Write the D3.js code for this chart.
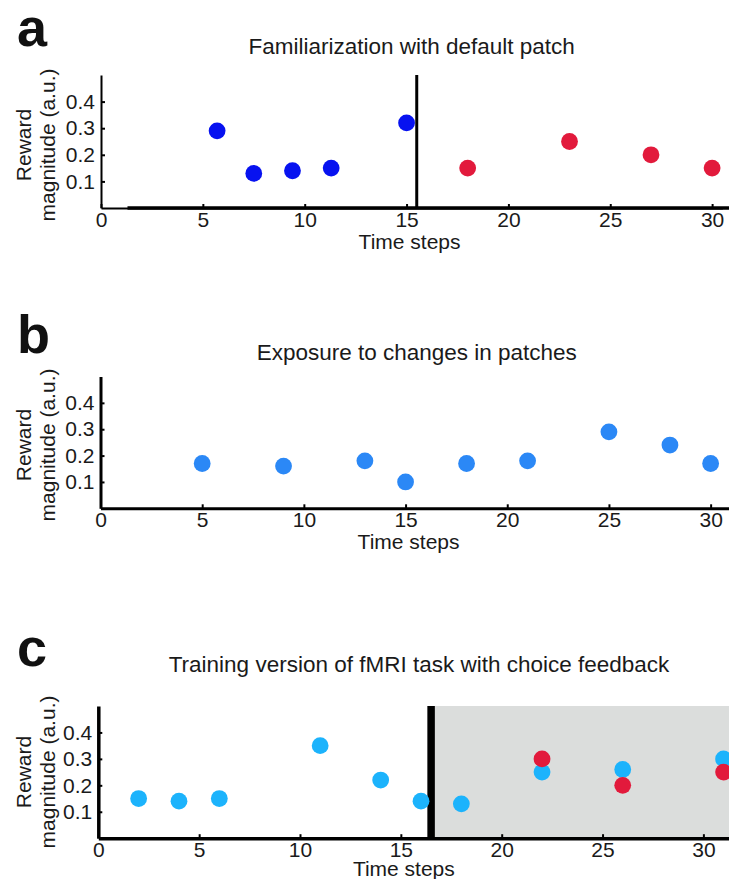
<!DOCTYPE html>
<html>
<head>
<meta charset="utf-8">
<script src="https://cdn.jsdelivr.net/npm/d3@7"></script>
<style>
    body { margin: 0; background: #fff; }
    text { font-family: "Liberation Sans", Arial, Helvetica, sans-serif; fill: #1a1a1a; }
    .panel-letter { font-weight: bold; font-size: 54px; fill: #111; }
    .title { font-size: 22.5px; }
    .tick-label { font-size: 21px; }
    .axis-label { font-size: 21px; }
</style>
</head>
<body>
<div id="figure"></div>
<script>

/*
 *  Data
 */

// shared ticks
var xTicks = [0, 5, 10, 15, 20, 25, 30];
var yTicks = [0.1, 0.2, 0.3, 0.4];

// panel a - familiarization with default patch
var timeA1 = [5.7, 7.5, 9.4, 11.3, 15];
var rewardA1 = [0.29, 0.13, 0.14, 0.15, 0.32];
var timeA2 = [18, 23, 27, 30];
var rewardA2 = [0.15, 0.25, 0.20, 0.15];
var switchA = 15.5;

// panel b - exposure to changes in patches
var timeB = [5, 9, 13, 15, 18, 21, 25, 28, 30];
var rewardB = [0.17, 0.16, 0.18, 0.10, 0.17, 0.18, 0.29, 0.24, 0.17];

// panel c - training version of fMRI task
var timeC1 = [2, 4, 6, 11, 14, 16, 18, 22, 26, 31];
var rewardC1 = [0.15, 0.14, 0.15, 0.35, 0.22, 0.14, 0.13, 0.25, 0.26, 0.30];
var timeC2 = [22, 26, 31];
var rewardC2 = [0.30, 0.20, 0.25];
var switchC = 16.5;

var titles = ["Familiarization with default patch",
    "Exposure to changes in patches",
    "Training version of fMRI task with choice feedback"];
var letters = ["a", "b", "c"];

var blue = "#0712f0",
    red = "#e21a3c",
    midBlue = "#2b88f6",
    lightBlue = "#1cb3fc",
    shade = "#dbdddc";

function zip(xs, ys) {
    return xs.map(function(x, i) { return { t: x, r: ys[i] }; });
}


/*
 *  SVG drawing area
 */

var svg = d3.select("#figure").append("svg")
    .attr("width", 729)
    .attr("height", 879);


/*
 *  Draw one panel
 */

function drawPanel(p) {
    var g = svg.append("g");

    var x = d3.scaleLinear().domain([0, p.xMax]).range(p.xRange);
    var y = d3.scaleLinear().domain([0, 0.5]).range(p.yRange);

    // shaded part (panel c)
    if (p.shadeFrom !== undefined) {
        g.append("rect")
            .attr("x", x(p.shadeFrom))
            .attr("y", y(0.5))
            .attr("width", x(p.xMax) - x(p.shadeFrom))
            .attr("height", y(0) - y(0.5))
            .attr("fill", shade);
    }

    // axes
    var xAxis = d3.axisBottom(x).tickValues(xTicks).tickSizeInner(-4).tickSizeOuter(0).tickPadding(4);
    var yAxis = d3.axisLeft(y).tickValues(yTicks).tickSizeInner(-4).tickSizeOuter(0).tickPadding(6)
        .tickFormat(d3.format(".1f"));

    var gx = g.append("g")
        .attr("transform", "translate(0," + y(0) + ")")
        .call(xAxis);
    var gy = g.append("g")
        .attr("transform", "translate(" + x(0) + ",0)")
        .call(yAxis);

    [gx, gy].forEach(function(a) {
        a.select(".domain").attr("stroke", "#000").attr("stroke-width", p.axisWidth);
        a.selectAll(".tick line").attr("stroke", "#000").attr("stroke-width", 2);
        a.selectAll(".tick text").attr("class", "tick-label").attr("fill", "#1a1a1a");
        a.attr("font-family", null).attr("font-size", null);
    });

    // thick baseline drawn over the x axis (panel a)
    if (p.baseline) {
        g.append("line")
            .attr("x1", x(p.baseline[0])).attr("x2", x(p.baseline[1]))
            .attr("y1", y(0)).attr("y2", y(0))
            .attr("stroke", "#000")
            .attr("stroke-width", 3.5);
    }

    // switch marker
    if (p.switchAt !== undefined) {
        g.append("line")
            .attr("x1", x(p.switchAt)).attr("x2", x(p.switchAt))
            .attr("y1", y(0)).attr("y2", y(0.5))
            .attr("stroke", "#000")
            .attr("stroke-width", p.switchWidth);
    }

    // points
    p.series.forEach(function(s) {
        g.selectAll(null)
            .data(s.data)
            .enter().append("circle")
            .attr("cx", function(d) { return x(d.t); })
            .attr("cy", function(d) { return y(d.r); })
            .attr("r", 8.4)
            .attr("fill", s.color);
    });

    // labels
    g.append("text")
        .attr("class", "panel-letter")
        .attr("x", 17)
        .attr("y", p.letterY)
        .text(p.letter);

    g.append("text")
        .attr("class", "title")
        .attr("x", x(p.xMax / 2))
        .attr("y", p.titleY)
        .attr("text-anchor", "middle")
        .text(p.title);

    g.append("text")
        .attr("class", "axis-label")
        .attr("x", (x(0) + x(30)) / 2 + 3)
        .attr("y", y(0) + p.xLabelGap)
        .attr("text-anchor", "middle")
        .text("Time steps");

    var yl = g.append("text")
        .attr("class", "axis-label")
        .attr("transform", "translate(31," + (p.yLabelY) + ") rotate(-90)")
        .attr("text-anchor", "middle");
    yl.append("tspan").attr("x", 0).attr("y", 0).text("Reward");
    yl.append("tspan").attr("x", 0).attr("y", 24).text("magnitude (a.u.)");
}


drawPanel({
    letter: letters[0], title: titles[0],
    xMax: 30.5, xRange: [101, 722.3], yRange: [208, 75],
    axisWidth: 2, baseline: [1.3, 31.5],
    switchAt: switchA, switchWidth: 3,
    letterY: 46, titleY: 54, yLabelY: 145, xLabelGap: 41,
    series: [{ data: zip(timeA1, rewardA1), color: blue },
             { data: zip(timeA2, rewardA2), color: red }]
});

drawPanel({
    letter: letters[1], title: titles[1],
    xMax: 31.1, xRange: [100.5, 733], yRange: [508.3, 376.5],
    axisWidth: 3,
    letterY: 353, titleY: 360, yLabelY: 445, xLabelGap: 41,
    series: [{ data: zip(timeB, rewardB), color: midBlue }]
});

drawPanel({
    letter: letters[2], title: titles[2],
    xMax: 31.8, xRange: [98.3, 739.7], yRange: [838.2, 706],
    axisWidth: 3.5,
    switchAt: switchC, switchWidth: 7.5, shadeFrom: switchC,
    letterY: 666, titleY: 672, yLabelY: 772, xLabelGap: 38,
    series: [{ data: zip(timeC1, rewardC1), color: lightBlue },
             { data: zip(timeC2, rewardC2), color: red }]
});

</script>
</body>
</html>
